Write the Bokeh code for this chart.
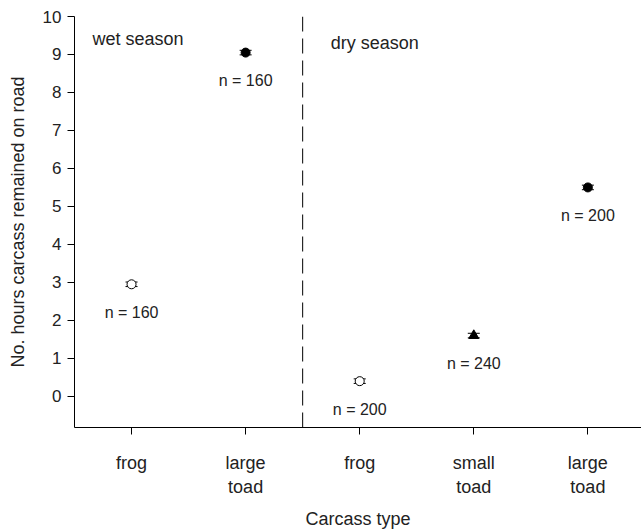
from bokeh.plotting import figure
from bokeh.models import Range1d, FixedTicker, ColumnDataSource, Whisker, Span, Label
from bokeh.core.properties import value
from bokeh.embed import file_html
from bokeh.resources import INLINE

# data
categories = ["frog", "large\ntoad", "frog", "small\ntoad", "large\ntoad"]
positions = [1, 2, 3, 4, 5]
hours = [2.95, 9.05, 0.4, 1.6, 5.5]
errors = [0.06, 0.06, 0.06, 0.06, 0.06]
n_labels = ["n = 160", "n = 160", "n = 200", "n = 240", "n = 200"]
seasons = ["wet season", "dry season"]
y_ticks = [0, 1, 2, 3, 4, 5, 6, 7, 8, 9, 10]

FONT = "Liberation Sans"
TXT = "#222222"

p = figure(width=641, height=531, output_backend="svg", toolbar_location=None,
           x_range=Range1d(0.5, 5.47), y_range=Range1d(-0.82, 10.0),
           min_border_left=74, min_border_right=0, min_border_top=16, min_border_bottom=90)
p.outline_line_color = None
p.grid.grid_line_color = None
p.background_fill_color = "white"

# axes
p.xaxis.ticker = FixedTicker(ticks=positions)
p.xaxis.major_label_overrides = {pos: lab for pos, lab in zip(positions, categories)}
p.yaxis.ticker = FixedTicker(ticks=y_ticks)
for ax in (p.xaxis, p.yaxis):
    ax.axis_line_color = "black"
    ax.major_tick_line_color = "black"
    ax.minor_tick_line_color = None
    ax.major_tick_in = 0
    ax.major_tick_out = 7
    ax.major_label_text_font = FONT
    ax.major_label_text_color = TXT
    ax.axis_label_text_font = FONT
    ax.axis_label_text_color = TXT
    ax.axis_label_text_font_style = "normal"
    ax.axis_label_text_font_size = "18px"
p.xaxis.major_label_text_font_size = "18px"
p.yaxis.major_label_text_font_size = "17px"
p.xaxis.major_label_standoff = 18
p.xaxis.major_label_text_baseline = "middle"
p.xaxis.axis_label = "Carcass type"
p.xaxis.axis_label_standoff = 9
p.yaxis.axis_label = "No. hours carcass remained on road"
p.yaxis.axis_label_standoff = 12
p.yaxis.major_label_standoff = 6

# season divider
p.add_layout(Span(location=2.5, dimension="height", line_color="black",
                  line_dash="15 7", line_width=1))

# error bars
src = ColumnDataSource(dict(x=positions, y=hours,
                            lo=[h - e for h, e in zip(hours, errors)],
                            hi=[h + e for h, e in zip(hours, errors)],
                            lab=n_labels))
w = Whisker(base="x", upper="hi", lower="lo", source=src, line_color="black", line_width=1)
w.upper_head.size = 12
w.lower_head.size = 12
w.upper_head.line_color = "black"
w.lower_head.line_color = "black"
p.add_layout(w)

# markers
open_idx = [0, 2]
circ_idx = [1, 4]
tri_idx = [3]
p.scatter([positions[i] for i in open_idx], [hours[i] for i in open_idx], marker="circle",
          size=9, fill_color="white", line_color="black", line_width=1)
p.scatter([positions[i] for i in circ_idx], [hours[i] for i in circ_idx], marker="circle",
          size=9, fill_color="black", line_color="black")
p.scatter([positions[i] for i in tri_idx], [hours[i] for i in tri_idx], marker="triangle",
          size=10, fill_color="black", line_color="black")

# n labels
p.text(x="x", y="y", text="lab", source=src, y_offset=28, text_align="center",
       text_baseline="middle", text_font=value(FONT), text_font_size="16px", text_color=TXT)

# season labels
p.add_layout(Label(x=0.658, y=9.42, text=seasons[0], text_font=FONT, text_font_size="18px",
                   text_color=TXT, text_baseline="middle"))
p.add_layout(Label(x=2.746, y=9.3, text=seasons[1], text_font=FONT, text_font_size="18px",
                   text_color=TXT, text_baseline="middle"))

open("out.html", "w").write(file_html(p, INLINE))
